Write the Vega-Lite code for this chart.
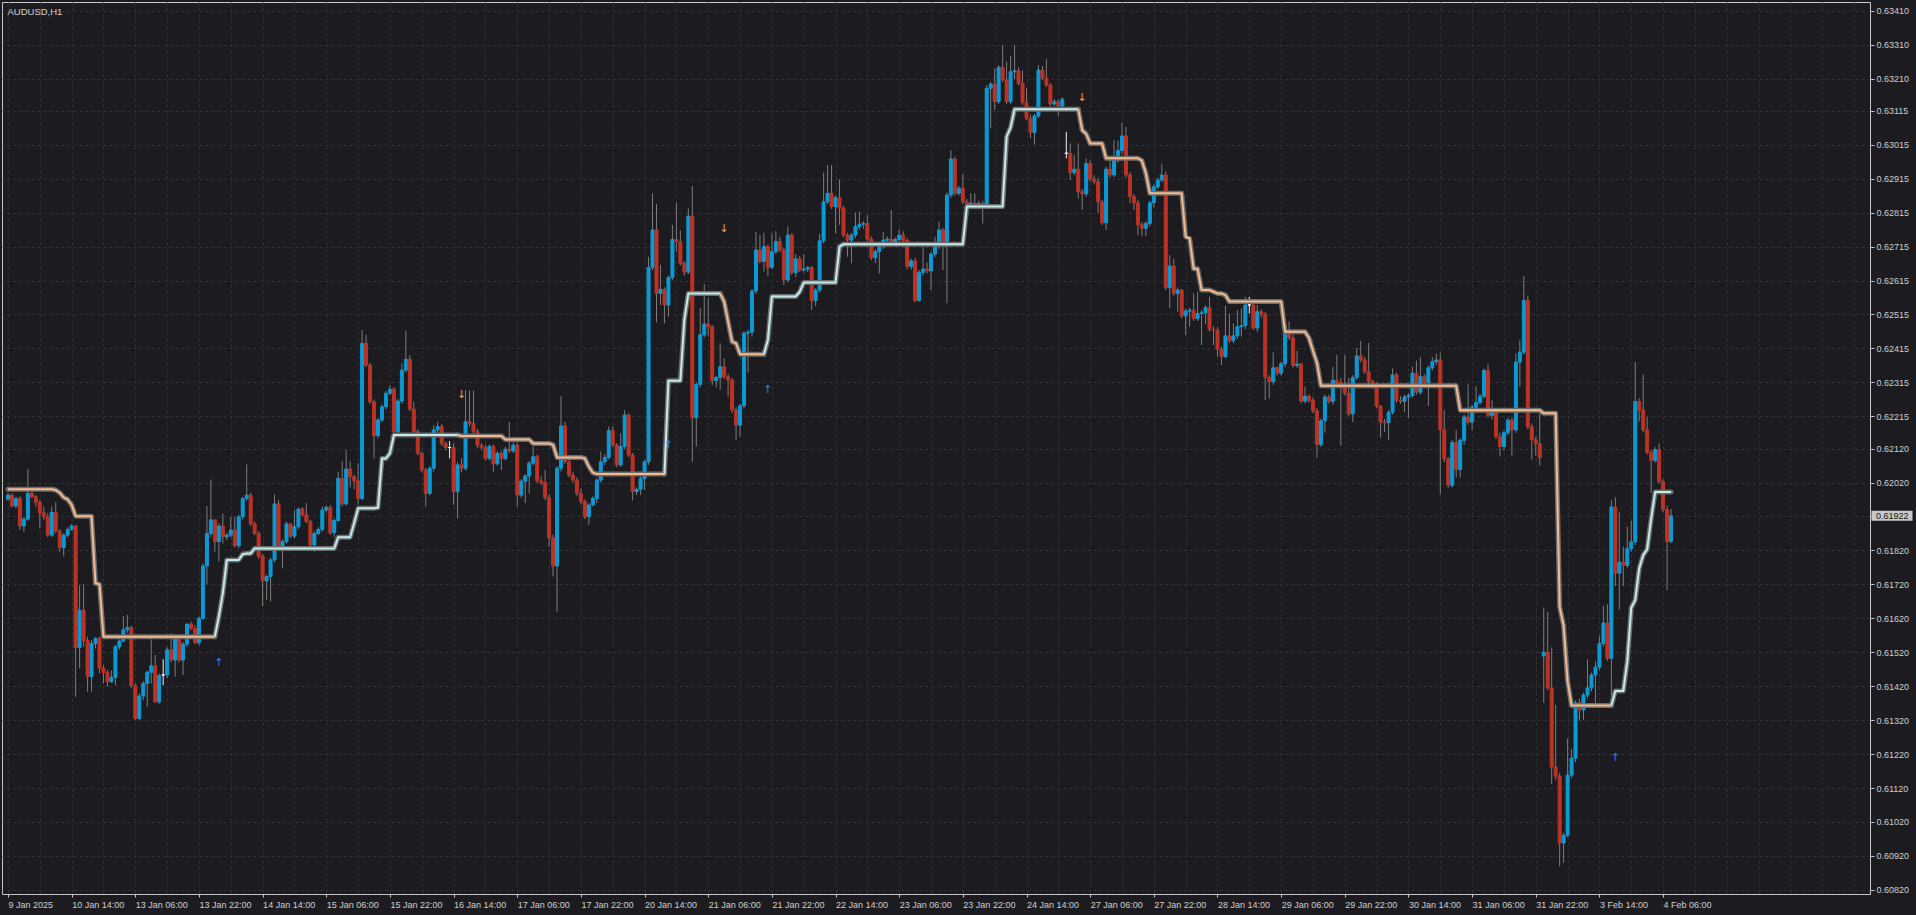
{
"$schema":"https://vega.github.io/schema/vega-lite/v6.json",
"width":1868,"height":892,
"autosize":{"type":"none"},
"padding":{"left":2,"top":2,"right":46,"bottom":21},
"background":"#1c1c20",
"config":{
"view":{"stroke":"#c8c8c8","strokeWidth":1,"fill":"#1c1c20"},
"axis":{"domain":false,"labelFont":"Liberation Sans","labelFontSize":9,"labelColor":"#cfcfcf","tickColor":"#c8c8c8","gridColor":"#313136","gridDash":[3,3],"gridWidth":1,"labelOverlap":false,"labelFlush":false,"tickCount":200}
},
"datasets":{
"bars":[
{"i":0,"o":0.61971,"h":0.61990,"l":0.61967,"c":0.61983},
{"i":1,"o":0.61983,"h":0.61988,"l":0.61947,"c":0.61951},
{"i":2,"o":0.61951,"h":0.61978,"l":0.61944,"c":0.61973},
{"i":3,"o":0.61973,"h":0.61980,"l":0.61880,"c":0.61892},
{"i":4,"o":0.61892,"h":0.61919,"l":0.61875,"c":0.61912},
{"i":5,"o":0.61912,"h":0.62060,"l":0.61908,"c":0.61988},
{"i":6,"o":0.61988,"h":0.61993,"l":0.61973,"c":0.61978},
{"i":7,"o":0.61978,"h":0.61983,"l":0.61949,"c":0.61962},
{"i":8,"o":0.61962,"h":0.61969,"l":0.61885,"c":0.61931},
{"i":9,"o":0.61931,"h":0.61949,"l":0.61910,"c":0.61919},
{"i":10,"o":0.61919,"h":0.61929,"l":0.61859,"c":0.61865},
{"i":11,"o":0.61865,"h":0.61949,"l":0.61860,"c":0.61932},
{"i":12,"o":0.61932,"h":0.61962,"l":0.61870,"c":0.61877},
{"i":13,"o":0.61877,"h":0.61882,"l":0.61816,"c":0.61828},
{"i":14,"o":0.61828,"h":0.61870,"l":0.61802,"c":0.61865},
{"i":15,"o":0.61865,"h":0.61888,"l":0.61859,"c":0.61882},
{"i":16,"o":0.61882,"h":0.61898,"l":0.61878,"c":0.61892},
{"i":17,"o":0.61892,"h":0.61895,"l":0.61389,"c":0.61534},
{"i":18,"o":0.61534,"h":0.61718,"l":0.61473,"c":0.61644},
{"i":19,"o":0.61644,"h":0.61720,"l":0.61536,"c":0.61554},
{"i":20,"o":0.61554,"h":0.61566,"l":0.61404,"c":0.61448},
{"i":21,"o":0.61448,"h":0.61556,"l":0.61404,"c":0.61546},
{"i":22,"o":0.61546,"h":0.61564,"l":0.61531,"c":0.61561},
{"i":23,"o":0.61561,"h":0.61566,"l":0.61458,"c":0.61473},
{"i":24,"o":0.61473,"h":0.61482,"l":0.61428,"c":0.61460},
{"i":25,"o":0.61460,"h":0.61468,"l":0.61419,"c":0.61433},
{"i":26,"o":0.61433,"h":0.61466,"l":0.61430,"c":0.61446},
{"i":27,"o":0.61446,"h":0.61541,"l":0.61423,"c":0.61536},
{"i":28,"o":0.61536,"h":0.61558,"l":0.61528,"c":0.61553},
{"i":29,"o":0.61553,"h":0.61627,"l":0.61549,"c":0.61586},
{"i":30,"o":0.61586,"h":0.61630,"l":0.61577,"c":0.61593},
{"i":31,"o":0.61593,"h":0.61597,"l":0.61414,"c":0.61422},
{"i":32,"o":0.61422,"h":0.61428,"l":0.61320,"c":0.61325},
{"i":33,"o":0.61325,"h":0.61399,"l":0.61320,"c":0.61391},
{"i":34,"o":0.61391,"h":0.61435,"l":0.61379,"c":0.61428},
{"i":35,"o":0.61428,"h":0.61466,"l":0.61360,"c":0.61461},
{"i":36,"o":0.61461,"h":0.61558,"l":0.61428,"c":0.61480},
{"i":37,"o":0.61480,"h":0.61512,"l":0.61370,"c":0.61374},
{"i":38,"o":0.61374,"h":0.61458,"l":0.61368,"c":0.61451},
{"i":39,"o":0.61453,"h":0.61499,"l":0.61423,"c":0.61453},
{"i":40,"o":0.61453,"h":0.61535,"l":0.61443,"c":0.61527},
{"i":41,"o":0.61527,"h":0.61576,"l":0.61490,"c":0.61497},
{"i":42,"o":0.61497,"h":0.61568,"l":0.61448,"c":0.61561},
{"i":43,"o":0.61561,"h":0.61566,"l":0.61490,"c":0.61497},
{"i":44,"o":0.61497,"h":0.61550,"l":0.61453,"c":0.61544},
{"i":45,"o":0.61544,"h":0.61605,"l":0.61535,"c":0.61603},
{"i":46,"o":0.61603,"h":0.61610,"l":0.61585,"c":0.61590},
{"i":47,"o":0.61590,"h":0.61600,"l":0.61543,"c":0.61548},
{"i":48,"o":0.61548,"h":0.61625,"l":0.61540,"c":0.61620},
{"i":49,"o":0.61620,"h":0.61782,"l":0.61615,"c":0.61774},
{"i":50,"o":0.61774,"h":0.61951,"l":0.61720,"c":0.61870},
{"i":51,"o":0.61870,"h":0.62029,"l":0.61860,"c":0.61910},
{"i":52,"o":0.61910,"h":0.61912,"l":0.61816,"c":0.61846},
{"i":53,"o":0.61846,"h":0.61900,"l":0.61787,"c":0.61892},
{"i":54,"o":0.61892,"h":0.61929,"l":0.61840,"c":0.61860},
{"i":55,"o":0.61860,"h":0.61872,"l":0.61850,"c":0.61865},
{"i":56,"o":0.61865,"h":0.61919,"l":0.61858,"c":0.61880},
{"i":57,"o":0.61880,"h":0.61919,"l":0.61828,"c":0.61834},
{"i":58,"o":0.61834,"h":0.61925,"l":0.61826,"c":0.61919},
{"i":59,"o":0.61919,"h":0.61978,"l":0.61910,"c":0.61973},
{"i":60,"o":0.61973,"h":0.62074,"l":0.61966,"c":0.61983},
{"i":61,"o":0.61983,"h":0.61990,"l":0.61892,"c":0.61898},
{"i":62,"o":0.61898,"h":0.61905,"l":0.61865,"c":0.61870},
{"i":63,"o":0.61870,"h":0.61876,"l":0.61795,"c":0.61802},
{"i":64,"o":0.61802,"h":0.61810,"l":0.61656,"c":0.61730},
{"i":65,"o":0.61730,"h":0.61748,"l":0.61674,"c":0.61743},
{"i":66,"o":0.61743,"h":0.61798,"l":0.61669,"c":0.61792},
{"i":67,"o":0.61792,"h":0.61985,"l":0.61785,"c":0.61957},
{"i":68,"o":0.61957,"h":0.61969,"l":0.61826,"c":0.61833},
{"i":69,"o":0.61833,"h":0.61852,"l":0.61767,"c":0.61846},
{"i":70,"o":0.61846,"h":0.61905,"l":0.61840,"c":0.61898},
{"i":71,"o":0.61898,"h":0.61900,"l":0.61856,"c":0.61862},
{"i":72,"o":0.61862,"h":0.61939,"l":0.61855,"c":0.61890},
{"i":73,"o":0.61890,"h":0.61946,"l":0.61883,"c":0.61942},
{"i":74,"o":0.61942,"h":0.61948,"l":0.61920,"c":0.61925},
{"i":75,"o":0.61925,"h":0.61959,"l":0.61900,"c":0.61905},
{"i":76,"o":0.61905,"h":0.61910,"l":0.61830,"c":0.61836},
{"i":77,"o":0.61836,"h":0.61876,"l":0.61816,"c":0.61870},
{"i":78,"o":0.61870,"h":0.61888,"l":0.61865,"c":0.61882},
{"i":79,"o":0.61882,"h":0.61949,"l":0.61875,"c":0.61939},
{"i":80,"o":0.61939,"h":0.61953,"l":0.61932,"c":0.61947},
{"i":81,"o":0.61947,"h":0.61953,"l":0.61866,"c":0.61872},
{"i":82,"o":0.61872,"h":0.61914,"l":0.61860,"c":0.61908},
{"i":83,"o":0.61908,"h":0.62052,"l":0.61905,"c":0.62032},
{"i":84,"o":0.62032,"h":0.62083,"l":0.61950,"c":0.61957},
{"i":85,"o":0.61957,"h":0.62116,"l":0.61952,"c":0.62060},
{"i":86,"o":0.62060,"h":0.62083,"l":0.62006,"c":0.62037},
{"i":87,"o":0.62037,"h":0.62043,"l":0.62000,"c":0.62025},
{"i":88,"o":0.62025,"h":0.62077,"l":0.61954,"c":0.61973},
{"i":89,"o":0.61973,"h":0.62469,"l":0.61968,"c":0.62430},
{"i":90,"o":0.62430,"h":0.62455,"l":0.62360,"c":0.62366},
{"i":91,"o":0.62366,"h":0.62372,"l":0.62252,"c":0.62258},
{"i":92,"o":0.62258,"h":0.62264,"l":0.62091,"c":0.62158},
{"i":93,"o":0.62158,"h":0.62210,"l":0.62150,"c":0.62204},
{"i":94,"o":0.62204,"h":0.62250,"l":0.62198,"c":0.62243},
{"i":95,"o":0.62243,"h":0.62290,"l":0.62236,"c":0.62283},
{"i":96,"o":0.62283,"h":0.62307,"l":0.62278,"c":0.62295},
{"i":97,"o":0.62295,"h":0.62301,"l":0.62160,"c":0.62170},
{"i":98,"o":0.62170,"h":0.62266,"l":0.62160,"c":0.62260},
{"i":99,"o":0.62260,"h":0.62371,"l":0.62252,"c":0.62351},
{"i":100,"o":0.62351,"h":0.62467,"l":0.62344,"c":0.62383},
{"i":101,"o":0.62383,"h":0.62395,"l":0.62230,"c":0.62236},
{"i":102,"o":0.62236,"h":0.62258,"l":0.62164,"c":0.62170},
{"i":103,"o":0.62170,"h":0.62176,"l":0.62100,"c":0.62106},
{"i":104,"o":0.62106,"h":0.62112,"l":0.62050,"c":0.62057},
{"i":105,"o":0.62057,"h":0.62063,"l":0.61949,"c":0.61988},
{"i":106,"o":0.61988,"h":0.62068,"l":0.61982,"c":0.62062},
{"i":107,"o":0.62062,"h":0.62189,"l":0.62052,"c":0.62175},
{"i":108,"o":0.62175,"h":0.62199,"l":0.62165,"c":0.62185},
{"i":109,"o":0.62185,"h":0.62192,"l":0.62128,"c":0.62135},
{"i":110,"o":0.62135,"h":0.62140,"l":0.62115,"c":0.62123},
{"i":111,"o":0.62123,"h":0.62142,"l":0.62091,"c":0.62123},
{"i":112,"o":0.62123,"h":0.62135,"l":0.61954,"c":0.61993},
{"i":113,"o":0.61993,"h":0.62080,"l":0.61914,"c":0.62072},
{"i":114,"o":0.62072,"h":0.62091,"l":0.62050,"c":0.62062},
{"i":115,"o":0.62062,"h":0.62293,"l":0.62055,"c":0.62199},
{"i":116,"o":0.62199,"h":0.62291,"l":0.62185,"c":0.62194},
{"i":117,"o":0.62194,"h":0.62291,"l":0.62160,"c":0.62170},
{"i":118,"o":0.62170,"h":0.62178,"l":0.62122,"c":0.62130},
{"i":119,"o":0.62130,"h":0.62136,"l":0.62115,"c":0.62123},
{"i":120,"o":0.62123,"h":0.62132,"l":0.62085,"c":0.62091},
{"i":121,"o":0.62091,"h":0.62132,"l":0.62085,"c":0.62126},
{"i":122,"o":0.62126,"h":0.62132,"l":0.62052,"c":0.62075},
{"i":123,"o":0.62075,"h":0.62112,"l":0.62070,"c":0.62106},
{"i":124,"o":0.62106,"h":0.62112,"l":0.62057,"c":0.62091},
{"i":125,"o":0.62091,"h":0.62125,"l":0.62085,"c":0.62118},
{"i":126,"o":0.62118,"h":0.62199,"l":0.62108,"c":0.62113},
{"i":127,"o":0.62113,"h":0.62138,"l":0.62108,"c":0.62130},
{"i":128,"o":0.62130,"h":0.62138,"l":0.61949,"c":0.61983},
{"i":129,"o":0.61983,"h":0.62030,"l":0.61975,"c":0.62024},
{"i":130,"o":0.62024,"h":0.62045,"l":0.61959,"c":0.62039},
{"i":131,"o":0.62039,"h":0.62083,"l":0.61988,"c":0.62077},
{"i":132,"o":0.62077,"h":0.62126,"l":0.62070,"c":0.62096},
{"i":133,"o":0.62096,"h":0.62102,"l":0.62018,"c":0.62025},
{"i":134,"o":0.62025,"h":0.62038,"l":0.62012,"c":0.62020},
{"i":135,"o":0.62020,"h":0.62057,"l":0.61968,"c":0.61976},
{"i":136,"o":0.61976,"h":0.61985,"l":0.61831,"c":0.61857},
{"i":137,"o":0.61857,"h":0.61866,"l":0.61743,"c":0.61774},
{"i":138,"o":0.61774,"h":0.62068,"l":0.61640,"c":0.62062},
{"i":139,"o":0.62062,"h":0.62275,"l":0.62052,"c":0.62187},
{"i":140,"o":0.62187,"h":0.62199,"l":0.62075,"c":0.62081},
{"i":141,"o":0.62081,"h":0.62086,"l":0.62035,"c":0.62042},
{"i":142,"o":0.62042,"h":0.62052,"l":0.62020,"c":0.62027},
{"i":143,"o":0.62027,"h":0.62035,"l":0.61980,"c":0.61988},
{"i":144,"o":0.61988,"h":0.62003,"l":0.61955,"c":0.61964},
{"i":145,"o":0.61964,"h":0.61970,"l":0.61912,"c":0.61919},
{"i":146,"o":0.61919,"h":0.61960,"l":0.61895,"c":0.61954},
{"i":147,"o":0.61954,"h":0.61980,"l":0.61950,"c":0.61973},
{"i":148,"o":0.61973,"h":0.62033,"l":0.61959,"c":0.62027},
{"i":149,"o":0.62027,"h":0.62111,"l":0.62020,"c":0.62081},
{"i":150,"o":0.62081,"h":0.62104,"l":0.62072,"c":0.62094},
{"i":151,"o":0.62094,"h":0.62185,"l":0.62088,"c":0.62173},
{"i":152,"o":0.62173,"h":0.62185,"l":0.62125,"c":0.62130},
{"i":153,"o":0.62130,"h":0.62136,"l":0.62065,"c":0.62072},
{"i":154,"o":0.62072,"h":0.62165,"l":0.62066,"c":0.62126},
{"i":155,"o":0.62126,"h":0.62234,"l":0.62118,"c":0.62219},
{"i":156,"o":0.62219,"h":0.62224,"l":0.62095,"c":0.62101},
{"i":157,"o":0.62101,"h":0.62107,"l":0.61967,"c":0.61993},
{"i":158,"o":0.61993,"h":0.62006,"l":0.61983,"c":0.62000},
{"i":159,"o":0.62000,"h":0.62038,"l":0.61983,"c":0.62032},
{"i":160,"o":0.62032,"h":0.62087,"l":0.61998,"c":0.62081},
{"i":161,"o":0.62081,"h":0.62685,"l":0.62072,"c":0.62653},
{"i":162,"o":0.62653,"h":0.62872,"l":0.62645,"c":0.62764},
{"i":163,"o":0.62764,"h":0.62840,"l":0.62492,"c":0.62577},
{"i":164,"o":0.62577,"h":0.62661,"l":0.62543,"c":0.62589},
{"i":165,"o":0.62589,"h":0.62595,"l":0.62489,"c":0.62543},
{"i":166,"o":0.62543,"h":0.62630,"l":0.62509,"c":0.62624},
{"i":167,"o":0.62624,"h":0.62779,"l":0.62616,"c":0.62736},
{"i":168,"o":0.62736,"h":0.62844,"l":0.62700,"c":0.62730},
{"i":169,"o":0.62730,"h":0.62762,"l":0.62660,"c":0.62666},
{"i":170,"o":0.62666,"h":0.62672,"l":0.62630,"c":0.62640},
{"i":171,"o":0.62640,"h":0.62828,"l":0.62634,"c":0.62805},
{"i":172,"o":0.62805,"h":0.62894,"l":0.62081,"c":0.62211},
{"i":173,"o":0.62211,"h":0.62315,"l":0.62126,"c":0.62309},
{"i":174,"o":0.62309,"h":0.62533,"l":0.62300,"c":0.62455},
{"i":175,"o":0.62455,"h":0.62605,"l":0.62447,"c":0.62487},
{"i":176,"o":0.62487,"h":0.62563,"l":0.62450,"c":0.62479},
{"i":177,"o":0.62479,"h":0.62483,"l":0.62307,"c":0.62320},
{"i":178,"o":0.62320,"h":0.62335,"l":0.62300,"c":0.62329},
{"i":179,"o":0.62329,"h":0.62430,"l":0.62293,"c":0.62361},
{"i":180,"o":0.62361,"h":0.62386,"l":0.62325,"c":0.62332},
{"i":181,"o":0.62332,"h":0.62340,"l":0.62273,"c":0.62322},
{"i":182,"o":0.62322,"h":0.62328,"l":0.62224,"c":0.62234},
{"i":183,"o":0.62234,"h":0.62242,"l":0.62145,"c":0.62189},
{"i":184,"o":0.62189,"h":0.62252,"l":0.62155,"c":0.62246},
{"i":185,"o":0.62246,"h":0.62466,"l":0.62238,"c":0.62460},
{"i":186,"o":0.62460,"h":0.62470,"l":0.62344,"c":0.62463},
{"i":187,"o":0.62463,"h":0.62590,"l":0.62450,"c":0.62584},
{"i":188,"o":0.62584,"h":0.62759,"l":0.62575,"c":0.62705},
{"i":189,"o":0.62705,"h":0.62749,"l":0.62665,"c":0.62671},
{"i":190,"o":0.62671,"h":0.62756,"l":0.62641,"c":0.62715},
{"i":191,"o":0.62715,"h":0.62721,"l":0.62628,"c":0.62654},
{"i":192,"o":0.62654,"h":0.62754,"l":0.62648,"c":0.62700},
{"i":193,"o":0.62700,"h":0.62761,"l":0.62693,"c":0.62730},
{"i":194,"o":0.62730,"h":0.62744,"l":0.62698,"c":0.62705},
{"i":195,"o":0.62705,"h":0.62711,"l":0.62602,"c":0.62617},
{"i":196,"o":0.62617,"h":0.62774,"l":0.62610,"c":0.62749},
{"i":197,"o":0.62749,"h":0.62755,"l":0.62632,"c":0.62638},
{"i":198,"o":0.62638,"h":0.62693,"l":0.62625,"c":0.62679},
{"i":199,"o":0.62679,"h":0.62688,"l":0.62640,"c":0.62646},
{"i":200,"o":0.62646,"h":0.62693,"l":0.62638,"c":0.62649},
{"i":201,"o":0.62649,"h":0.62658,"l":0.62640,"c":0.62653},
{"i":202,"o":0.62653,"h":0.62658,"l":0.62528,"c":0.62556},
{"i":203,"o":0.62556,"h":0.62593,"l":0.62540,"c":0.62587},
{"i":204,"o":0.62587,"h":0.62752,"l":0.62579,"c":0.62732},
{"i":205,"o":0.62732,"h":0.62933,"l":0.62725,"c":0.62847},
{"i":206,"o":0.62847,"h":0.62955,"l":0.62840,"c":0.62872},
{"i":207,"o":0.62872,"h":0.62955,"l":0.62826,"c":0.62833},
{"i":208,"o":0.62833,"h":0.62865,"l":0.62754,"c":0.62859},
{"i":209,"o":0.62859,"h":0.62913,"l":0.62779,"c":0.62828},
{"i":210,"o":0.62828,"h":0.62835,"l":0.62742,"c":0.62749},
{"i":211,"o":0.62749,"h":0.62755,"l":0.62685,"c":0.62734},
{"i":212,"o":0.62734,"h":0.62755,"l":0.62666,"c":0.62749},
{"i":213,"o":0.62749,"h":0.62815,"l":0.62740,"c":0.62774},
{"i":214,"o":0.62774,"h":0.62818,"l":0.62765,"c":0.62781},
{"i":215,"o":0.62781,"h":0.62790,"l":0.62768,"c":0.62783},
{"i":216,"o":0.62783,"h":0.62808,"l":0.62730,"c":0.62737},
{"i":217,"o":0.62737,"h":0.62745,"l":0.62675,"c":0.62682},
{"i":218,"o":0.62682,"h":0.62707,"l":0.62666,"c":0.62700},
{"i":219,"o":0.62700,"h":0.62722,"l":0.62636,"c":0.62715},
{"i":220,"o":0.62715,"h":0.62759,"l":0.62708,"c":0.62734},
{"i":221,"o":0.62734,"h":0.62745,"l":0.62725,"c":0.62737},
{"i":222,"o":0.62737,"h":0.62823,"l":0.62722,"c":0.62729},
{"i":223,"o":0.62729,"h":0.62742,"l":0.62720,"c":0.62736},
{"i":224,"o":0.62736,"h":0.62766,"l":0.62726,"c":0.62749},
{"i":225,"o":0.62749,"h":0.62760,"l":0.62726,"c":0.62733},
{"i":226,"o":0.62733,"h":0.62740,"l":0.62648,"c":0.62656},
{"i":227,"o":0.62656,"h":0.62680,"l":0.62646,"c":0.62673},
{"i":228,"o":0.62673,"h":0.62682,"l":0.62551,"c":0.62556},
{"i":229,"o":0.62556,"h":0.62646,"l":0.62553,"c":0.62639},
{"i":230,"o":0.62639,"h":0.62715,"l":0.62630,"c":0.62649},
{"i":231,"o":0.62649,"h":0.62668,"l":0.62636,"c":0.62643},
{"i":232,"o":0.62643,"h":0.62700,"l":0.62587,"c":0.62693},
{"i":233,"o":0.62693,"h":0.62744,"l":0.62684,"c":0.62715},
{"i":234,"o":0.62715,"h":0.62788,"l":0.62708,"c":0.62764},
{"i":235,"o":0.62764,"h":0.62770,"l":0.62646,"c":0.62729},
{"i":236,"o":0.62729,"h":0.62874,"l":0.62548,"c":0.62867},
{"i":237,"o":0.62867,"h":0.62999,"l":0.62858,"c":0.62973},
{"i":238,"o":0.62973,"h":0.62980,"l":0.62865,"c":0.62872},
{"i":239,"o":0.62872,"h":0.62894,"l":0.62866,"c":0.62887},
{"i":240,"o":0.62887,"h":0.62929,"l":0.62840,"c":0.62847},
{"i":241,"o":0.62847,"h":0.62855,"l":0.62832,"c":0.62840},
{"i":242,"o":0.62840,"h":0.62872,"l":0.62830,"c":0.62843},
{"i":243,"o":0.62843,"h":0.62872,"l":0.62830,"c":0.62838},
{"i":244,"o":0.62838,"h":0.62850,"l":0.62825,"c":0.62842},
{"i":245,"o":0.62842,"h":0.62850,"l":0.62783,"c":0.62840},
{"i":246,"o":0.62840,"h":0.63191,"l":0.62833,"c":0.63181},
{"i":247,"o":0.63181,"h":0.63200,"l":0.63063,"c":0.63194},
{"i":248,"o":0.63194,"h":0.63240,"l":0.63117,"c":0.63142},
{"i":249,"o":0.63142,"h":0.63250,"l":0.63135,"c":0.63243},
{"i":250,"o":0.63243,"h":0.63309,"l":0.63200,"c":0.63206},
{"i":251,"o":0.63206,"h":0.63260,"l":0.63135,"c":0.63142},
{"i":252,"o":0.63142,"h":0.63276,"l":0.63135,"c":0.63230},
{"i":253,"o":0.63230,"h":0.63309,"l":0.63208,"c":0.63233},
{"i":254,"o":0.63233,"h":0.63243,"l":0.63190,"c":0.63196},
{"i":255,"o":0.63196,"h":0.63235,"l":0.63132,"c":0.63139},
{"i":256,"o":0.63139,"h":0.63181,"l":0.63087,"c":0.63093},
{"i":257,"o":0.63093,"h":0.63104,"l":0.63034,"c":0.63051},
{"i":258,"o":0.63051,"h":0.63106,"l":0.63016,"c":0.63100},
{"i":259,"o":0.63100,"h":0.63250,"l":0.63094,"c":0.63235},
{"i":260,"o":0.63235,"h":0.63247,"l":0.63205,"c":0.63211},
{"i":261,"o":0.63211,"h":0.63267,"l":0.63185,"c":0.63191},
{"i":262,"o":0.63191,"h":0.63197,"l":0.63128,"c":0.63135},
{"i":263,"o":0.63135,"h":0.63150,"l":0.63130,"c":0.63142},
{"i":264,"o":0.63142,"h":0.63148,"l":0.63100,"c":0.63129},
{"i":265,"o":0.63129,"h":0.63156,"l":0.63122,"c":0.63149},
{"i":266,"o":0.62990,"h":0.63053,"l":0.62975,"c":0.62990},
{"i":267,"o":0.62990,"h":0.63019,"l":0.62911,"c":0.62933},
{"i":268,"o":0.62933,"h":0.62985,"l":0.62925,"c":0.62943},
{"i":269,"o":0.62943,"h":0.63019,"l":0.62857,"c":0.62877},
{"i":270,"o":0.62877,"h":0.62885,"l":0.62823,"c":0.62870},
{"i":271,"o":0.62870,"h":0.62975,"l":0.62862,"c":0.62960},
{"i":272,"o":0.62960,"h":0.62970,"l":0.62907,"c":0.62914},
{"i":273,"o":0.62914,"h":0.62925,"l":0.62898,"c":0.62906},
{"i":274,"o":0.62906,"h":0.62918,"l":0.62813,"c":0.62847},
{"i":275,"o":0.62847,"h":0.62853,"l":0.62778,"c":0.62785},
{"i":276,"o":0.62785,"h":0.62950,"l":0.62764,"c":0.62943},
{"i":277,"o":0.62943,"h":0.62970,"l":0.62918,"c":0.62926},
{"i":278,"o":0.62926,"h":0.63029,"l":0.62919,"c":0.62970},
{"i":279,"o":0.62970,"h":0.63027,"l":0.62962,"c":0.62998},
{"i":280,"o":0.62998,"h":0.63080,"l":0.62988,"c":0.63041},
{"i":281,"o":0.63041,"h":0.63068,"l":0.62918,"c":0.62926},
{"i":282,"o":0.62926,"h":0.62935,"l":0.62842,"c":0.62862},
{"i":283,"o":0.62862,"h":0.62870,"l":0.62823,"c":0.62844},
{"i":284,"o":0.62844,"h":0.62853,"l":0.62749,"c":0.62779},
{"i":285,"o":0.62779,"h":0.62787,"l":0.62746,"c":0.62769},
{"i":286,"o":0.62769,"h":0.62790,"l":0.62746,"c":0.62783},
{"i":287,"o":0.62783,"h":0.62850,"l":0.62775,"c":0.62844},
{"i":288,"o":0.62844,"h":0.62898,"l":0.62831,"c":0.62891},
{"i":289,"o":0.62891,"h":0.62918,"l":0.62884,"c":0.62911},
{"i":290,"o":0.62911,"h":0.62960,"l":0.62905,"c":0.62926},
{"i":291,"o":0.62926,"h":0.62936,"l":0.62587,"c":0.62594},
{"i":292,"o":0.62594,"h":0.62690,"l":0.62533,"c":0.62658},
{"i":293,"o":0.62658,"h":0.62680,"l":0.62570,"c":0.62577},
{"i":294,"o":0.62577,"h":0.62594,"l":0.62523,"c":0.62587},
{"i":295,"o":0.62587,"h":0.62590,"l":0.62504,"c":0.62511},
{"i":296,"o":0.62511,"h":0.62532,"l":0.62454,"c":0.62525},
{"i":297,"o":0.62525,"h":0.62535,"l":0.62479,"c":0.62528},
{"i":298,"o":0.62528,"h":0.62577,"l":0.62496,"c":0.62503},
{"i":299,"o":0.62503,"h":0.62582,"l":0.62496,"c":0.62518},
{"i":300,"o":0.62518,"h":0.62528,"l":0.62425,"c":0.62520},
{"i":301,"o":0.62520,"h":0.62542,"l":0.62487,"c":0.62535},
{"i":302,"o":0.62535,"h":0.62567,"l":0.62464,"c":0.62471},
{"i":303,"o":0.62471,"h":0.62480,"l":0.62425,"c":0.62469},
{"i":304,"o":0.62469,"h":0.62478,"l":0.62391,"c":0.62412},
{"i":305,"o":0.62412,"h":0.62421,"l":0.62366,"c":0.62391},
{"i":306,"o":0.62391,"h":0.62540,"l":0.62386,"c":0.62452},
{"i":307,"o":0.62452,"h":0.62518,"l":0.62431,"c":0.62438},
{"i":308,"o":0.62438,"h":0.62489,"l":0.62430,"c":0.62452},
{"i":309,"o":0.62452,"h":0.62528,"l":0.62443,"c":0.62479},
{"i":310,"o":0.62479,"h":0.62533,"l":0.62450,"c":0.62482},
{"i":311,"o":0.62482,"h":0.62567,"l":0.62472,"c":0.62543},
{"i":312,"o":0.62543,"h":0.62567,"l":0.62518,"c":0.62543},
{"i":313,"o":0.62543,"h":0.62550,"l":0.62470,"c":0.62475},
{"i":314,"o":0.62475,"h":0.62543,"l":0.62464,"c":0.62523},
{"i":315,"o":0.62523,"h":0.62530,"l":0.62505,"c":0.62516},
{"i":316,"o":0.62516,"h":0.62522,"l":0.62263,"c":0.62330},
{"i":317,"o":0.62330,"h":0.62336,"l":0.62268,"c":0.62317},
{"i":318,"o":0.62317,"h":0.62404,"l":0.62308,"c":0.62358},
{"i":319,"o":0.62358,"h":0.62362,"l":0.62335,"c":0.62342},
{"i":320,"o":0.62342,"h":0.62377,"l":0.62335,"c":0.62370},
{"i":321,"o":0.62370,"h":0.62498,"l":0.62360,"c":0.62460},
{"i":322,"o":0.62460,"h":0.62495,"l":0.62440,"c":0.62446},
{"i":323,"o":0.62446,"h":0.62455,"l":0.62358,"c":0.62365},
{"i":324,"o":0.62365,"h":0.62408,"l":0.62358,"c":0.62369},
{"i":325,"o":0.62369,"h":0.62373,"l":0.62253,"c":0.62260},
{"i":326,"o":0.62260,"h":0.62303,"l":0.62253,"c":0.62274},
{"i":327,"o":0.62274,"h":0.62280,"l":0.62255,"c":0.62262},
{"i":328,"o":0.62262,"h":0.62271,"l":0.62225,"c":0.62231},
{"i":329,"o":0.62231,"h":0.62240,"l":0.62093,"c":0.62132},
{"i":330,"o":0.62132,"h":0.62209,"l":0.62125,"c":0.62202},
{"i":331,"o":0.62202,"h":0.62279,"l":0.62167,"c":0.62272},
{"i":332,"o":0.62272,"h":0.62279,"l":0.62252,"c":0.62259},
{"i":333,"o":0.62259,"h":0.62361,"l":0.62250,"c":0.62321},
{"i":334,"o":0.62321,"h":0.62396,"l":0.62308,"c":0.62315},
{"i":335,"o":0.62315,"h":0.62328,"l":0.62128,"c":0.62308},
{"i":336,"o":0.62308,"h":0.62396,"l":0.62276,"c":0.62283},
{"i":337,"o":0.62283,"h":0.62328,"l":0.62215,"c":0.62222},
{"i":338,"o":0.62222,"h":0.62336,"l":0.62198,"c":0.62329},
{"i":339,"o":0.62329,"h":0.62416,"l":0.62322,"c":0.62393},
{"i":340,"o":0.62393,"h":0.62437,"l":0.62374,"c":0.62381},
{"i":341,"o":0.62381,"h":0.62390,"l":0.62340,"c":0.62347},
{"i":342,"o":0.62347,"h":0.62431,"l":0.62310,"c":0.62317},
{"i":343,"o":0.62317,"h":0.62323,"l":0.62296,"c":0.62303},
{"i":344,"o":0.62303,"h":0.62315,"l":0.62238,"c":0.62245},
{"i":345,"o":0.62245,"h":0.62248,"l":0.62152,"c":0.62198},
{"i":346,"o":0.62198,"h":0.62208,"l":0.62169,"c":0.62196},
{"i":347,"o":0.62196,"h":0.62234,"l":0.62146,"c":0.62227},
{"i":348,"o":0.62227,"h":0.62356,"l":0.62220,"c":0.62337},
{"i":349,"o":0.62337,"h":0.62344,"l":0.62255,"c":0.62262},
{"i":350,"o":0.62262,"h":0.62275,"l":0.62252,"c":0.62259},
{"i":351,"o":0.62259,"h":0.62279,"l":0.62227,"c":0.62272},
{"i":352,"o":0.62272,"h":0.62283,"l":0.62210,"c":0.62276},
{"i":353,"o":0.62276,"h":0.62361,"l":0.62270,"c":0.62342},
{"i":354,"o":0.62342,"h":0.62379,"l":0.62279,"c":0.62286},
{"i":355,"o":0.62286,"h":0.62390,"l":0.62279,"c":0.62332},
{"i":356,"o":0.62332,"h":0.62339,"l":0.62308,"c":0.62315},
{"i":357,"o":0.62315,"h":0.62365,"l":0.62245,"c":0.62358},
{"i":358,"o":0.62358,"h":0.62390,"l":0.62350,"c":0.62376},
{"i":359,"o":0.62376,"h":0.62400,"l":0.62366,"c":0.62381},
{"i":360,"o":0.62381,"h":0.62402,"l":0.61985,"c":0.62175},
{"i":361,"o":0.62175,"h":0.62233,"l":0.62080,"c":0.62090},
{"i":362,"o":0.62090,"h":0.62095,"l":0.62005,"c":0.62012},
{"i":363,"o":0.62012,"h":0.62145,"l":0.62005,"c":0.62138},
{"i":364,"o":0.62138,"h":0.62175,"l":0.62035,"c":0.62058},
{"i":365,"o":0.62058,"h":0.62151,"l":0.62035,"c":0.62144},
{"i":366,"o":0.62144,"h":0.62220,"l":0.62131,"c":0.62213},
{"i":367,"o":0.62213,"h":0.62309,"l":0.62191,"c":0.62198},
{"i":368,"o":0.62198,"h":0.62249,"l":0.62175,"c":0.62242},
{"i":369,"o":0.62242,"h":0.62303,"l":0.62234,"c":0.62256},
{"i":370,"o":0.62256,"h":0.62281,"l":0.62249,"c":0.62274},
{"i":371,"o":0.62274,"h":0.62356,"l":0.62267,"c":0.62350},
{"i":372,"o":0.62350,"h":0.62369,"l":0.62211,"c":0.62218},
{"i":373,"o":0.62218,"h":0.62262,"l":0.62206,"c":0.62227},
{"i":374,"o":0.62227,"h":0.62234,"l":0.62148,"c":0.62155},
{"i":375,"o":0.62155,"h":0.62167,"l":0.62097,"c":0.62126},
{"i":376,"o":0.62126,"h":0.62174,"l":0.62115,"c":0.62167},
{"i":377,"o":0.62167,"h":0.62211,"l":0.62160,"c":0.62204},
{"i":378,"o":0.62204,"h":0.62211,"l":0.62099,"c":0.62175},
{"i":379,"o":0.62175,"h":0.62400,"l":0.62166,"c":0.62375},
{"i":380,"o":0.62375,"h":0.62439,"l":0.62303,"c":0.62404},
{"i":381,"o":0.62404,"h":0.62629,"l":0.62397,"c":0.62556},
{"i":382,"o":0.62556,"h":0.62571,"l":0.62177,"c":0.62184},
{"i":383,"o":0.62184,"h":0.62194,"l":0.62088,"c":0.62146},
{"i":384,"o":0.62146,"h":0.62155,"l":0.62099,"c":0.62134},
{"i":385,"o":0.62134,"h":0.62225,"l":0.62070,"c":0.62093},
{"i":386,"o":0.61509,"h":0.61651,"l":0.61371,"c":0.61520},
{"i":387,"o":0.61520,"h":0.61639,"l":0.61408,"c":0.61415},
{"i":388,"o":0.61415,"h":0.61534,"l":0.61132,"c":0.61182},
{"i":389,"o":0.61182,"h":0.61365,"l":0.61144,"c":0.61155},
{"i":390,"o":0.61155,"h":0.61165,"l":0.60890,"c":0.60958},
{"i":391,"o":0.60958,"h":0.60988,"l":0.60900,"c":0.60981},
{"i":392,"o":0.60981,"h":0.61266,"l":0.60975,"c":0.61158},
{"i":393,"o":0.61158,"h":0.61235,"l":0.61150,"c":0.61208},
{"i":394,"o":0.61208,"h":0.61378,"l":0.61196,"c":0.61371},
{"i":395,"o":0.61371,"h":0.61382,"l":0.61319,"c":0.61350},
{"i":396,"o":0.61350,"h":0.61401,"l":0.61321,"c":0.61394},
{"i":397,"o":0.61394,"h":0.61499,"l":0.61385,"c":0.61415},
{"i":398,"o":0.61415,"h":0.61460,"l":0.61405,"c":0.61453},
{"i":399,"o":0.61453,"h":0.61493,"l":0.61371,"c":0.61476},
{"i":400,"o":0.61476,"h":0.61569,"l":0.61467,"c":0.61546},
{"i":401,"o":0.61546,"h":0.61657,"l":0.61537,"c":0.61606},
{"i":402,"o":0.61606,"h":0.61662,"l":0.61495,"c":0.61502},
{"i":403,"o":0.61502,"h":0.61969,"l":0.61371,"c":0.61948},
{"i":404,"o":0.61948,"h":0.61977,"l":0.61715,"c":0.61753},
{"i":405,"o":0.61753,"h":0.61934,"l":0.61645,"c":0.61785},
{"i":406,"o":0.61785,"h":0.61831,"l":0.61715,"c":0.61776},
{"i":407,"o":0.61776,"h":0.61890,"l":0.61769,"c":0.61825},
{"i":408,"o":0.61825,"h":0.61907,"l":0.61816,"c":0.61845},
{"i":409,"o":0.61845,"h":0.62375,"l":0.61836,"c":0.62259},
{"i":410,"o":0.62259,"h":0.62268,"l":0.62199,"c":0.62233},
{"i":411,"o":0.62233,"h":0.62338,"l":0.62168,"c":0.62175},
{"i":412,"o":0.62175,"h":0.62213,"l":0.62102,"c":0.62109},
{"i":413,"o":0.62109,"h":0.62116,"l":0.61989,"c":0.62085},
{"i":414,"o":0.62085,"h":0.62124,"l":0.62078,"c":0.62117},
{"i":415,"o":0.62117,"h":0.62136,"l":0.62016,"c":0.62023},
{"i":416,"o":0.62023,"h":0.62030,"l":0.61933,"c":0.61940},
{"i":417,"o":0.61940,"h":0.61952,"l":0.61703,"c":0.61846},
{"i":418,"o":0.61846,"h":0.61942,"l":0.61841,"c":0.61922}
],
"ind":[
{"i":0,"v":0.62000,"s":1},{"i":1,"v":0.62000,"s":1},{"i":2,"v":0.62000,"s":1},{"i":3,"v":0.62000,"s":1},{"i":4,"v":0.62000,"s":1},{"i":5,"v":0.62000,"s":1},{"i":6,"v":0.62000,"s":1},{"i":7,"v":0.62000,"s":1},{"i":8,"v":0.62000,"s":1},{"i":9,"v":0.62000,"s":1},{"i":10,"v":0.62000,"s":1},{"i":11,"v":0.62000,"s":1},
{"i":12,"v":0.61998,"s":1},{"i":13,"v":0.61990,"s":1},{"i":14,"v":0.61976,"s":1},{"i":15,"v":0.61970,"s":1},{"i":16,"v":0.61954,"s":1},
{"i":17,"v":0.61921,"s":1},{"i":18,"v":0.61921,"s":1},{"i":19,"v":0.61921,"s":1},{"i":20,"v":0.61921,"s":1},{"i":21,"v":0.61921,"s":1},
{"i":22,"v":0.61723,"s":1},{"i":23,"v":0.61720,"s":1},
{"i":24,"v":0.61566,"s":1},{"i":25,"v":0.61566,"s":1},{"i":26,"v":0.61566,"s":1},{"i":27,"v":0.61566,"s":1},{"i":28,"v":0.61566,"s":1},{"i":29,"v":0.61566,"s":1},{"i":30,"v":0.61566,"s":1},{"i":31,"v":0.61566,"s":1},{"i":32,"v":0.61566,"s":1},{"i":33,"v":0.61566,"s":1},{"i":34,"v":0.61566,"s":1},{"i":35,"v":0.61566,"s":1},{"i":36,"v":0.61566,"s":1},{"i":37,"v":0.61566,"s":1},{"i":38,"v":0.61566,"s":1},{"i":39,"v":0.61566,"s":1},{"i":40,"v":0.61566,"s":1},{"i":41,"v":0.61566,"s":1},{"i":42,"v":0.61566,"s":1},{"i":43,"v":0.61566,"s":1},{"i":44,"v":0.61566,"s":1},{"i":45,"v":0.61566,"s":1},{"i":46,"v":0.61566,"s":1},{"i":47,"v":0.61566,"s":1},{"i":48,"v":0.61566,"s":1},{"i":49,"v":0.61566,"s":1},{"i":50,"v":0.61566,"s":1},{"i":51,"v":0.61566,"s":1},{"i":52,"v":0.61566,"s":1},
{"i":52,"v":0.61566,"s":2},{"i":53,"v":0.61625,"s":2},{"i":54,"v":0.61694,"s":2},{"i":55,"v":0.61792,"s":2},{"i":56,"v":0.61792,"s":2},{"i":57,"v":0.61792,"s":2},{"i":58,"v":0.61792,"s":2},{"i":59,"v":0.61809,"s":2},{"i":60,"v":0.61811,"s":2},{"i":61,"v":0.61811,"s":2},
{"i":62,"v":0.61826,"s":2},{"i":63,"v":0.61826,"s":2},{"i":64,"v":0.61826,"s":2},{"i":65,"v":0.61826,"s":2},{"i":66,"v":0.61826,"s":2},{"i":67,"v":0.61826,"s":2},{"i":68,"v":0.61826,"s":2},{"i":69,"v":0.61826,"s":2},{"i":70,"v":0.61826,"s":2},{"i":71,"v":0.61826,"s":2},{"i":72,"v":0.61826,"s":2},{"i":73,"v":0.61826,"s":2},{"i":74,"v":0.61826,"s":2},{"i":75,"v":0.61826,"s":2},{"i":76,"v":0.61826,"s":2},{"i":77,"v":0.61826,"s":2},{"i":78,"v":0.61826,"s":2},{"i":79,"v":0.61826,"s":2},{"i":80,"v":0.61826,"s":2},{"i":81,"v":0.61826,"s":2},{"i":82,"v":0.61826,"s":2},
{"i":83,"v":0.61859,"s":2},{"i":84,"v":0.61859,"s":2},{"i":85,"v":0.61859,"s":2},{"i":86,"v":0.61859,"s":2},{"i":87,"v":0.61900,"s":2},
{"i":88,"v":0.61944,"s":2},{"i":89,"v":0.61944,"s":2},{"i":90,"v":0.61944,"s":2},{"i":91,"v":0.61944,"s":2},{"i":92,"v":0.61944,"s":2},{"i":93,"v":0.61946,"s":2},
{"i":94,"v":0.62091,"s":2},{"i":95,"v":0.62091,"s":2},{"i":96,"v":0.62106,"s":2},
{"i":97,"v":0.62160,"s":2},{"i":98,"v":0.62160,"s":2},{"i":99,"v":0.62160,"s":2},{"i":100,"v":0.62160,"s":2},{"i":101,"v":0.62160,"s":2},{"i":102,"v":0.62160,"s":2},{"i":103,"v":0.62160,"s":2},{"i":104,"v":0.62160,"s":2},{"i":105,"v":0.62160,"s":2},{"i":106,"v":0.62160,"s":2},{"i":107,"v":0.62160,"s":2},{"i":108,"v":0.62160,"s":2},{"i":109,"v":0.62160,"s":2},{"i":110,"v":0.62160,"s":2},{"i":111,"v":0.62160,"s":2},{"i":112,"v":0.62160,"s":2},{"i":113,"v":0.62160,"s":2},
{"i":113,"v":0.62160,"s":3},{"i":114,"v":0.62157,"s":3},{"i":115,"v":0.62157,"s":3},{"i":116,"v":0.62157,"s":3},{"i":117,"v":0.62157,"s":3},{"i":118,"v":0.62157,"s":3},{"i":119,"v":0.62157,"s":3},{"i":120,"v":0.62157,"s":3},{"i":121,"v":0.62157,"s":3},{"i":122,"v":0.62157,"s":3},{"i":123,"v":0.62157,"s":3},{"i":124,"v":0.62157,"s":3},
{"i":125,"v":0.62147,"s":3},{"i":126,"v":0.62147,"s":3},{"i":127,"v":0.62147,"s":3},{"i":128,"v":0.62147,"s":3},{"i":129,"v":0.62147,"s":3},{"i":130,"v":0.62147,"s":3},{"i":131,"v":0.62147,"s":3},
{"i":132,"v":0.62135,"s":3},{"i":133,"v":0.62135,"s":3},{"i":134,"v":0.62135,"s":3},{"i":135,"v":0.62135,"s":3},{"i":136,"v":0.62135,"s":3},{"i":137,"v":0.62131,"s":3},
{"i":138,"v":0.62094,"s":3},{"i":139,"v":0.62094,"s":3},{"i":140,"v":0.62094,"s":3},{"i":141,"v":0.62094,"s":3},{"i":142,"v":0.62094,"s":3},{"i":143,"v":0.62094,"s":3},{"i":144,"v":0.62094,"s":3},{"i":145,"v":0.62091,"s":3},{"i":146,"v":0.62067,"s":3},{"i":147,"v":0.62049,"s":3},
{"i":148,"v":0.62045,"s":3},{"i":149,"v":0.62045,"s":3},{"i":150,"v":0.62045,"s":3},{"i":151,"v":0.62045,"s":3},{"i":152,"v":0.62045,"s":3},{"i":153,"v":0.62045,"s":3},{"i":154,"v":0.62045,"s":3},{"i":155,"v":0.62045,"s":3},{"i":156,"v":0.62045,"s":3},{"i":157,"v":0.62045,"s":3},{"i":158,"v":0.62045,"s":3},{"i":159,"v":0.62045,"s":3},{"i":160,"v":0.62045,"s":3},{"i":161,"v":0.62045,"s":3},{"i":162,"v":0.62045,"s":3},{"i":163,"v":0.62045,"s":3},{"i":164,"v":0.62045,"s":3},{"i":165,"v":0.62045,"s":3},
{"i":165,"v":0.62045,"s":4},{"i":166,"v":0.62320,"s":4},{"i":167,"v":0.62320,"s":4},{"i":168,"v":0.62320,"s":4},{"i":169,"v":0.62320,"s":4},{"i":170,"v":0.62499,"s":4},
{"i":171,"v":0.62577,"s":4},{"i":172,"v":0.62577,"s":4},{"i":173,"v":0.62577,"s":4},{"i":174,"v":0.62577,"s":4},{"i":175,"v":0.62577,"s":4},{"i":176,"v":0.62577,"s":4},{"i":177,"v":0.62577,"s":4},{"i":178,"v":0.62577,"s":4},{"i":179,"v":0.62577,"s":4},
{"i":179,"v":0.62577,"s":5},{"i":180,"v":0.62553,"s":5},{"i":181,"v":0.62494,"s":5},{"i":182,"v":0.62435,"s":5},{"i":183,"v":0.62430,"s":5},{"i":184,"v":0.62398,"s":5},{"i":185,"v":0.62398,"s":5},{"i":186,"v":0.62398,"s":5},{"i":187,"v":0.62398,"s":5},{"i":188,"v":0.62398,"s":5},{"i":189,"v":0.62398,"s":5},{"i":190,"v":0.62398,"s":5},
{"i":190,"v":0.62398,"s":6},{"i":191,"v":0.62440,"s":6},{"i":192,"v":0.62568,"s":6},{"i":193,"v":0.62568,"s":6},{"i":194,"v":0.62568,"s":6},{"i":195,"v":0.62568,"s":6},{"i":196,"v":0.62568,"s":6},{"i":197,"v":0.62568,"s":6},{"i":198,"v":0.62568,"s":6},{"i":199,"v":0.62582,"s":6},
{"i":200,"v":0.62609,"s":6},{"i":201,"v":0.62609,"s":6},{"i":202,"v":0.62609,"s":6},{"i":203,"v":0.62609,"s":6},{"i":204,"v":0.62609,"s":6},{"i":205,"v":0.62609,"s":6},{"i":206,"v":0.62609,"s":6},{"i":207,"v":0.62609,"s":6},{"i":208,"v":0.62609,"s":6},{"i":209,"v":0.62715,"s":6},
{"i":210,"v":0.62722,"s":6},{"i":211,"v":0.62722,"s":6},{"i":212,"v":0.62722,"s":6},{"i":213,"v":0.62722,"s":6},{"i":214,"v":0.62722,"s":6},{"i":215,"v":0.62722,"s":6},{"i":216,"v":0.62722,"s":6},{"i":217,"v":0.62722,"s":6},{"i":218,"v":0.62722,"s":6},{"i":219,"v":0.62722,"s":6},{"i":220,"v":0.62722,"s":6},{"i":221,"v":0.62722,"s":6},{"i":222,"v":0.62722,"s":6},{"i":223,"v":0.62722,"s":6},{"i":224,"v":0.62722,"s":6},{"i":225,"v":0.62722,"s":6},{"i":226,"v":0.62722,"s":6},{"i":227,"v":0.62722,"s":6},{"i":228,"v":0.62722,"s":6},{"i":229,"v":0.62722,"s":6},{"i":230,"v":0.62722,"s":6},{"i":231,"v":0.62722,"s":6},{"i":232,"v":0.62722,"s":6},{"i":233,"v":0.62722,"s":6},{"i":234,"v":0.62722,"s":6},{"i":235,"v":0.62722,"s":6},{"i":236,"v":0.62722,"s":6},{"i":237,"v":0.62722,"s":6},{"i":238,"v":0.62722,"s":6},{"i":239,"v":0.62722,"s":6},{"i":240,"v":0.62722,"s":6},
{"i":241,"v":0.62833,"s":6},{"i":242,"v":0.62833,"s":6},{"i":243,"v":0.62833,"s":6},{"i":244,"v":0.62833,"s":6},{"i":245,"v":0.62833,"s":6},{"i":246,"v":0.62833,"s":6},{"i":247,"v":0.62833,"s":6},{"i":248,"v":0.62833,"s":6},{"i":249,"v":0.62833,"s":6},{"i":250,"v":0.62833,"s":6},
{"i":251,"v":0.63039,"s":6},{"i":252,"v":0.63066,"s":6},
{"i":253,"v":0.63120,"s":6},{"i":254,"v":0.63120,"s":6},{"i":255,"v":0.63120,"s":6},{"i":256,"v":0.63120,"s":6},{"i":257,"v":0.63120,"s":6},{"i":258,"v":0.63120,"s":6},{"i":259,"v":0.63120,"s":6},{"i":260,"v":0.63120,"s":6},{"i":261,"v":0.63120,"s":6},{"i":262,"v":0.63120,"s":6},{"i":263,"v":0.63120,"s":6},{"i":264,"v":0.63120,"s":6},{"i":265,"v":0.63120,"s":6},{"i":266,"v":0.63120,"s":6},{"i":267,"v":0.63120,"s":6},{"i":268,"v":0.63120,"s":6},{"i":269,"v":0.63120,"s":6},
{"i":269,"v":0.63120,"s":7},{"i":270,"v":0.63058,"s":7},{"i":271,"v":0.63047,"s":7},{"i":272,"v":0.63019,"s":7},{"i":273,"v":0.63019,"s":7},{"i":274,"v":0.63019,"s":7},{"i":275,"v":0.63019,"s":7},
{"i":276,"v":0.62975,"s":7},{"i":277,"v":0.62975,"s":7},{"i":278,"v":0.62975,"s":7},{"i":279,"v":0.62975,"s":7},{"i":280,"v":0.62975,"s":7},{"i":281,"v":0.62975,"s":7},{"i":282,"v":0.62975,"s":7},{"i":283,"v":0.62975,"s":7},{"i":284,"v":0.62975,"s":7},{"i":285,"v":0.62968,"s":7},{"i":286,"v":0.62931,"s":7},
{"i":287,"v":0.62872,"s":7},{"i":288,"v":0.62872,"s":7},{"i":289,"v":0.62872,"s":7},{"i":290,"v":0.62872,"s":7},{"i":291,"v":0.62872,"s":7},{"i":292,"v":0.62872,"s":7},{"i":293,"v":0.62872,"s":7},{"i":294,"v":0.62872,"s":7},{"i":295,"v":0.62872,"s":7},
{"i":296,"v":0.62744,"s":7},{"i":297,"v":0.62739,"s":7},{"i":298,"v":0.62650,"s":7},{"i":299,"v":0.62650,"s":7},{"i":300,"v":0.62587,"s":7},{"i":301,"v":0.62587,"s":7},{"i":302,"v":0.62587,"s":7},{"i":303,"v":0.62582,"s":7},{"i":304,"v":0.62577,"s":7},{"i":305,"v":0.62577,"s":7},{"i":306,"v":0.62572,"s":7},
{"i":307,"v":0.62553,"s":7},{"i":308,"v":0.62553,"s":7},{"i":309,"v":0.62553,"s":7},{"i":310,"v":0.62553,"s":7},{"i":311,"v":0.62553,"s":7},{"i":312,"v":0.62553,"s":7},{"i":313,"v":0.62553,"s":7},{"i":314,"v":0.62553,"s":7},{"i":315,"v":0.62553,"s":7},{"i":316,"v":0.62553,"s":7},{"i":317,"v":0.62553,"s":7},{"i":318,"v":0.62553,"s":7},{"i":319,"v":0.62553,"s":7},{"i":320,"v":0.62553,"s":7},
{"i":321,"v":0.62464,"s":7},{"i":322,"v":0.62464,"s":7},{"i":323,"v":0.62464,"s":7},{"i":324,"v":0.62464,"s":7},{"i":325,"v":0.62464,"s":7},{"i":326,"v":0.62464,"s":7},{"i":327,"v":0.62446,"s":7},{"i":328,"v":0.62408,"s":7},{"i":329,"v":0.62373,"s":7},
{"i":330,"v":0.62305,"s":7},{"i":331,"v":0.62305,"s":7},{"i":332,"v":0.62305,"s":7},{"i":333,"v":0.62305,"s":7},{"i":334,"v":0.62305,"s":7},{"i":335,"v":0.62305,"s":7},{"i":336,"v":0.62305,"s":7},{"i":337,"v":0.62305,"s":7},{"i":338,"v":0.62305,"s":7},{"i":339,"v":0.62305,"s":7},{"i":340,"v":0.62305,"s":7},{"i":341,"v":0.62305,"s":7},{"i":342,"v":0.62305,"s":7},{"i":343,"v":0.62305,"s":7},{"i":344,"v":0.62305,"s":7},{"i":345,"v":0.62305,"s":7},{"i":346,"v":0.62305,"s":7},{"i":347,"v":0.62305,"s":7},{"i":348,"v":0.62305,"s":7},{"i":349,"v":0.62305,"s":7},{"i":350,"v":0.62305,"s":7},{"i":351,"v":0.62305,"s":7},{"i":352,"v":0.62305,"s":7},{"i":353,"v":0.62305,"s":7},{"i":354,"v":0.62305,"s":7},{"i":355,"v":0.62305,"s":7},{"i":356,"v":0.62305,"s":7},{"i":357,"v":0.62305,"s":7},{"i":358,"v":0.62305,"s":7},{"i":359,"v":0.62305,"s":7},{"i":360,"v":0.62305,"s":7},{"i":361,"v":0.62305,"s":7},{"i":362,"v":0.62305,"s":7},{"i":363,"v":0.62305,"s":7},{"i":364,"v":0.62305,"s":7},
{"i":365,"v":0.62233,"s":7},{"i":366,"v":0.62233,"s":7},{"i":367,"v":0.62233,"s":7},{"i":368,"v":0.62233,"s":7},{"i":369,"v":0.62233,"s":7},{"i":370,"v":0.62233,"s":7},{"i":371,"v":0.62233,"s":7},{"i":372,"v":0.62233,"s":7},{"i":373,"v":0.62233,"s":7},{"i":374,"v":0.62233,"s":7},{"i":375,"v":0.62233,"s":7},{"i":376,"v":0.62233,"s":7},{"i":377,"v":0.62233,"s":7},{"i":378,"v":0.62233,"s":7},{"i":379,"v":0.62233,"s":7},{"i":380,"v":0.62233,"s":7},{"i":381,"v":0.62233,"s":7},{"i":382,"v":0.62233,"s":7},{"i":383,"v":0.62233,"s":7},{"i":384,"v":0.62233,"s":7},{"i":385,"v":0.62233,"s":7},
{"i":386,"v":0.62224,"s":7},{"i":387,"v":0.62224,"s":7},{"i":388,"v":0.62224,"s":7},{"i":389,"v":0.62224,"s":7},{"i":390,"v":0.61654,"s":7},{"i":391,"v":0.61598,"s":7},{"i":392,"v":0.61435,"s":7},
{"i":393,"v":0.61363,"s":7},{"i":394,"v":0.61363,"s":7},{"i":395,"v":0.61363,"s":7},{"i":396,"v":0.61363,"s":7},{"i":397,"v":0.61363,"s":7},{"i":398,"v":0.61363,"s":7},{"i":399,"v":0.61363,"s":7},{"i":400,"v":0.61363,"s":7},{"i":401,"v":0.61363,"s":7},{"i":402,"v":0.61363,"s":7},{"i":403,"v":0.61363,"s":7},
{"i":403,"v":0.61363,"s":8},{"i":404,"v":0.61406,"s":8},{"i":405,"v":0.61406,"s":8},{"i":406,"v":0.61406,"s":8},{"i":407,"v":0.61493,"s":8},{"i":408,"v":0.61651,"s":8},{"i":409,"v":0.61674,"s":8},{"i":410,"v":0.61767,"s":8},{"i":411,"v":0.61806,"s":8},{"i":412,"v":0.61823,"s":8},{"i":413,"v":0.61913,"s":8},
{"i":414,"v":0.61992,"s":8},{"i":415,"v":0.61992,"s":8},{"i":416,"v":0.61992,"s":8},{"i":417,"v":0.61992,"s":8},{"i":418,"v":0.61992,"s":8}
],
"sig":[
{"i":53,"p":0.61487,"d":"↑"},
{"i":114,"p":0.62278,"d":"↓"},
{"i":166,"p":0.62131,"d":"↑"},
{"i":180,"p":0.62767,"d":"↓"},
{"i":191,"p":0.62293,"d":"↑"},
{"i":270,"p":0.63152,"d":"↓"},
{"i":404,"p":0.61208,"d":"↑"}
],
"last":[{"p":0.61922,"t":"0.61922"}]
},
"layer":[
{
"data":{"name":"bars"},
"mark":{"type":"rule","strokeWidth":1},
"encoding":{
"x":{"field":"i","type":"quantitative","title":null,"scale":{"domain":[-0.25,466.75],"nice":false,"zero":false},
"axis":{"orient":"bottom","tickCount":200,"values":[0,8,16,24,32,40,48,56,64,72,80,88,96,104,112,120,128,136,144,152,160,168,176,184,192,200,208,216,224,232,240,248,256,264,272,280,288,296,304,312,320,328,336,344,352,360,368,376,384,392,400,408,416,424,432,440,448,456,464],"grid":true,"tickSize":3,"tickOpacity":{"condition":{"test":"datum.value % 16 == 0 && datum.value <= 416","value":1},"value":0},"labelAlign":"left","labelBaseline":"top","labelPadding":3,"labelDx":0,
"labelExpr":"(datum.value % 16 == 0 && datum.value <= 416) ? ['9 Jan 2025','10 Jan 14:00','13 Jan 06:00','13 Jan 22:00','14 Jan 14:00','15 Jan 06:00','15 Jan 22:00','16 Jan 14:00','17 Jan 06:00','17 Jan 22:00','20 Jan 14:00','21 Jan 06:00','21 Jan 22:00','22 Jan 14:00','23 Jan 06:00','23 Jan 22:00','24 Jan 14:00','27 Jan 06:00','27 Jan 22:00','28 Jan 14:00','29 Jan 06:00','29 Jan 22:00','30 Jan 14:00','31 Jan 06:00','31 Jan 22:00','3 Feb 14:00','4 Feb 06:00'][datum.value / 16] : ''"}},
"y":{"field":"l","type":"quantitative","scale":{"domain":[0.608078,0.634356],"nice":false,"zero":false},
"axis":{"orient":"right","title":"AUDUSD,H1","titleAngle":0,"titleX":-1863,"titleY":12,"titleAlign":"left","titleBaseline":"alphabetic","titleFont":"Liberation Sans","titleFontSize":9.5,"titleFontWeight":"normal","titleColor":"#d2d2d2","tickCount":200,"values":[0.6341,0.6331,0.6321,0.63115,0.63015,0.62915,0.62815,0.62715,0.62615,0.62515,0.62415,0.62315,0.62215,0.6212,0.6202,0.6192,0.6182,0.6172,0.6162,0.6152,0.6142,0.6132,0.6122,0.6112,0.6102,0.6092,0.6082],"grid":true,"tickSize":4,"labelPadding":2,"labelAlign":"left","labelBaseline":"middle",
"labelExpr":"abs(datum.value - 0.6192) < 0.000001 ? '' : format(datum.value, '.5f')"}},
"y2":{"field":"h"},
"color":{"condition":{"test":"datum.o == datum.c","value":"#f0f0f0"},"value":"#7c7c7c"}
}
},
{
"data":{"name":"bars"},
"mark":{"type":"bar","size":3,"strokeWidth":1},
"encoding":{
"x":{"field":"i","type":"quantitative","title":null,"scale":{"domain":[-0.25,466.75],"nice":false,"zero":false}},
"y":{"field":"o","type":"quantitative","scale":{"domain":[0.608078,0.634356],"nice":false,"zero":false}},
"y2":{"field":"c"},
"color":{"condition":[{"test":"datum.c > datum.o","value":"#0c99d4"},{"test":"datum.c < datum.o","value":"#bc3326"}],"value":"#f0f0f0"},
"stroke":{"condition":[{"test":"datum.c > datum.o","value":"#0c99d4"},{"test":"datum.c < datum.o","value":"#bc3326"}],"value":"#f0f0f0"}
}
},
{
"data":{"name":"ind"},
"mark":{"type":"line","strokeWidth":5,"color":"#6c6c6c","strokeJoin":"round","strokeCap":"round"},
"encoding":{
"x":{"field":"i","type":"quantitative","title":null,"scale":{"domain":[-0.25,466.75],"nice":false,"zero":false}},
"y":{"field":"v","type":"quantitative","scale":{"domain":[0.608078,0.634356],"nice":false,"zero":false}},
"detail":{"field":"s","type":"nominal"}
}
},
{
"data":{"name":"ind"},
"mark":{"type":"line","strokeWidth":2,"strokeJoin":"round"},
"encoding":{
"x":{"field":"i","type":"quantitative","title":null,"scale":{"domain":[-0.25,466.75],"nice":false,"zero":false}},
"y":{"field":"v","type":"quantitative","scale":{"domain":[0.608078,0.634356],"nice":false,"zero":false}},
"color":{"field":"s","type":"nominal","legend":null,"scale":{"domain":[1,2,3,4,5,6,7,8],"range":["#f6b98c","#c2ebee","#f6b98c","#c2ebee","#f6b98c","#c2ebee","#f6b98c","#c2ebee"]}}
}
},
{
"data":{"name":"sig"},
"mark":{"type":"text","font":"DejaVu Sans","fontSize":11,"baseline":"middle","align":"center"},
"encoding":{
"x":{"field":"i","type":"quantitative","title":null,"scale":{"domain":[-0.25,466.75],"nice":false,"zero":false}},
"y":{"field":"p","type":"quantitative","scale":{"domain":[0.608078,0.634356],"nice":false,"zero":false}},
"text":{"field":"d"},
"color":{"condition":{"test":"datum.d == '↑'","value":"#2f7fe6"},"value":"#ec9d5e"}
}
},
{
"data":{"name":"last"},
"mark":{"type":"tick","orient":"horizontal","size":41,"thickness":10,"color":"#c8c8c8","opacity":1},
"encoding":{
"x":{"value":{"expr":"width + 22"}},
"y":{"field":"p","type":"quantitative","scale":{"domain":[0.608078,0.634356],"nice":false,"zero":false}}
}
},
{
"data":{"name":"last"},
"mark":{"type":"text","font":"Liberation Sans","fontSize":9,"align":"left","baseline":"middle","color":"#111111"},
"encoding":{
"x":{"value":{"expr":"width + 6"}},
"y":{"field":"p","type":"quantitative","scale":{"domain":[0.608078,0.634356],"nice":false,"zero":false}},
"text":{"field":"t"}
}
}
]
}
